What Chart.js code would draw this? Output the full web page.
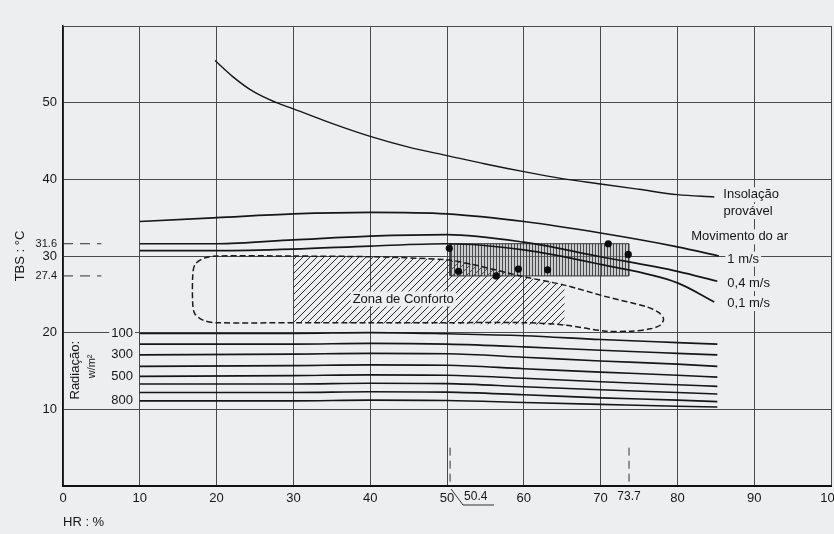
<!DOCTYPE html>
<html><head><meta charset="utf-8">
<script src="https://cdn.jsdelivr.net/npm/chart.js@4"></script>
<style>
html,body{margin:0;padding:0;background:#edeef0;overflow:hidden;width:834px;height:534px}
canvas{display:block}
</style></head>
<body><canvas id="c" width="880" height="534"></canvas>
<script>
// ---------- data ----------
const hrTicks  = [0,10,20,30,40,50,60,70,80,90,100];
const tbsTicks = [0,10,20,30,40,50,60];
const tbsMarks = [27.4, 31.6];
const hrMarks  = [50.4, 73.7];

const insolHR  = [19.8, 22.1, 24.7, 27.8, 30, 35, 40, 45, 50, 55, 60, 65, 70, 75, 80, 84.8];
const insolTBS = [55.5, 53.4, 51.5, 50.0, 49.2, 47.3, 45.6, 44.2, 43.1, 42.0, 41.0, 40.1, 39.4, 38.7, 38.0, 37.7];

const air1HR   = [10, 20, 30, 40, 50, 60, 70, 80, 85.4];
const air1TBS  = [34.5, 35.0, 35.5, 35.7, 35.5, 34.5, 33.0, 31.2, 30.0];
const air04HR  = [10, 20, 30, 40, 50, 60, 70, 80, 85.2];
const air04TBS = [31.6, 31.6, 32.1, 32.6, 32.8, 31.8, 29.9, 28.0, 26.7];
const air01HR  = [10, 20, 30, 40, 50, 60, 70, 80, 84.8];
const air01TBS = [30.7, 30.7, 30.9, 31.3, 31.6, 30.8, 28.9, 26.5, 24.0];

const radHR  = [10, 30, 40, 50, 60, 70, 80, 85.2];
const rad100 = [19.9, 19.9, 20.0, 19.85, 19.6, 19.1, 18.7, 18.5];
const rad200 = [18.5, 18.5, 18.6, 18.5, 18.15, 17.7, 17.3, 17.1];
const rad300 = [17.1, 17.2, 17.3, 17.25, 16.8, 16.3, 15.9, 15.6];
const rad400 = [15.6, 15.7, 15.8, 15.75, 15.3, 14.85, 14.45, 14.2];
const rad500 = [14.3, 14.4, 14.5, 14.45, 14.05, 13.6, 13.2, 13.0];
const rad600 = [13.3, 13.3, 13.4, 13.35, 12.95, 12.55, 12.2, 12.0];
const rad700 = [12.2, 12.2, 12.3, 12.25, 11.9, 11.5, 11.2, 11.0];
const rad800 = [11.1, 11.1, 11.2, 11.15, 10.9, 10.65, 10.4, 10.3];
const radLines  = [rad100, rad200, rad300, rad400, rad500, rad600, rad700, rad800];
const radLabels = ['100', '300', '500', '800'];
const radLabelLines = [rad100, rad300, rad500, rad800];

const comfortHR  = [30, 40, 50, 53.3, 60, 65.3, 70.7, 75.9, 77.6, 78.2, 77.8, 76.5, 74, 70.7, 65.3, 60, 50, 40, 30, 20, 18.3, 17.2, 16.9, 16.9, 17.2, 18.3, 20, 30];
const comfortTBS = [30.0, 29.9, 29.5, 28.9, 27.3, 26.2, 24.7, 23.4, 22.6, 21.8, 21.0, 20.5, 20.2, 20.2, 21.0, 21.3, 21.3, 21.3, 21.3, 21.3, 21.6, 22.4, 23.6, 27.6, 28.9, 29.7, 30.0, 30.0];

const zoneHR  = [30, 40, 50, 53.3, 60, 65.3, 65.3, 30, 30];
const zoneTBS = [30.0, 29.9, 29.5, 28.9, 27.3, 26.2, 21.0, 21.3, 30.0];

const measHR  = [50.3, 51.5, 56.4, 59.3, 63.1, 71.0, 73.6];
const measTBS = [31.0, 28.0, 27.4, 28.3, 28.2, 31.6, 30.2];

// ---------- helpers ----------
const FONT = "'Liberation Sans', Arial, sans-serif";
const BG = '#edeef0';
const INK = '#161616';
const pts = (xs, ys) => xs.map((x, i) => ({x, y: ys[i]}));

function diagPattern() {
  const s = 7, c = document.createElement('canvas');
  c.width = s; c.height = s;
  const g = c.getContext('2d');
  g.strokeStyle = '#2a2a2a'; g.lineWidth = 1;
  g.beginPath();
  g.moveTo(0, s); g.lineTo(s, 0);
  g.moveTo(-1, 1); g.lineTo(1, -1);
  g.moveTo(s - 1, s + 1); g.lineTo(s + 1, s - 1);
  g.stroke();
  return g.createPattern(c, 'repeat');
}
function vertPattern() {
  const c = document.createElement('canvas');
  c.width = 3; c.height = 4;
  const g = c.getContext('2d');
  g.fillStyle = 'rgba(140,140,140,0.35)'; g.fillRect(0, 0, 3, 4);
  g.fillStyle = '#4a4a4a'; g.fillRect(1, 0, 1, 4);
  return g.createPattern(c, 'repeat');
}

const boxData = [
  {x: hrMarks[0], y: tbsMarks[0]}, {x: hrMarks[1], y: tbsMarks[0]},
  {x: hrMarks[1], y: tbsMarks[1]}, {x: hrMarks[0], y: tbsMarks[1]},
  {x: hrMarks[0], y: tbsMarks[0]}
];

const curve = (data, w, order) => ({
  data, showLine: true, pointRadius: 0, borderColor: INK, borderWidth: w,
  cubicInterpolationMode: 'monotone', fill: false, order
});

const datasets = [
  {data: pts(measHR, measTBS), pointRadius: 3.6, pointBackgroundColor: '#0a0a0a',
   pointBorderWidth: 0, showLine: false, order: 0},
  curve(pts(insolHR, insolTBS), 1.4, 1),
  curve(pts(air1HR, air1TBS), 1.7, 1),
  curve(pts(air04HR, air04TBS), 1.7, 1),
  curve(pts(air01HR, air01TBS), 1.7, 1),
  ...radLines.map(r => curve(pts(radHR, r), 1.6, 1)),
  {data: pts(comfortHR, comfortTBS), showLine: true, pointRadius: 0, borderColor: '#1a1a1a',
   borderWidth: 1.5, borderDash: [6, 3], tension: 0.3, fill: false, order: 2},
  {data: boxData, showLine: true, pointRadius: 0, borderColor: '#333', borderWidth: 1,
   backgroundColor: vertPattern(), fill: 'shape', tension: 0, order: 3},
  {data: pts(zoneHR, zoneTBS), showLine: true, pointRadius: 0, borderWidth: 0,
   borderColor: 'rgba(0,0,0,0)', backgroundColor: diagPattern(), fill: 'shape', tension: 0, order: 4}
];

// ---------- annotation plugin ----------
const annot = {
  id: 'annot',
  afterDatasetsDraw(chart) {
    const {ctx, scales: {x, y}} = chart;
    const X = v => x.getPixelForValue(v), Y = v => y.getPixelForValue(v);
    function lab(text, px, py, align, size, opts = {}) {
      ctx.save();
      ctx.font = `${opts.weight || 'normal'} ${size}px ${FONT}`;
      const w = ctx.measureText(text).width;
      const x0 = align === 'left' ? px : align === 'right' ? px - w : px - w / 2;
      if (opts.bg !== false) {
        ctx.fillStyle = BG;
        ctx.fillRect(x0 - 2, py - size / 2 - 1, w + 4, size + 2);
      }
      ctx.fillStyle = INK; ctx.textAlign = align; ctx.textBaseline = 'middle';
      ctx.fillText(text, px, py);
      ctx.restore();
    }
    function rot(text, px, py, size) {
      ctx.save();
      ctx.translate(px, py); ctx.rotate(-Math.PI / 2);
      ctx.font = `${size}px ${FONT}`; ctx.fillStyle = INK;
      ctx.textAlign = 'center'; ctx.textBaseline = 'middle';
      ctx.fillText(text, 0, 0);
      ctx.restore();
    }
    // dashed reference marks
    ctx.save();
    ctx.strokeStyle = '#333'; ctx.lineWidth = 1; ctx.setLineDash([10, 7]);
    tbsMarks.forEach(t => { ctx.beginPath(); ctx.moveTo(X(0), Y(t)); ctx.lineTo(X(5), Y(t)); ctx.stroke(); });
    ctx.setLineDash([8, 5]);
    hrMarks.forEach(h => { ctx.beginPath(); ctx.moveTo(X(h), Y(5)); ctx.lineTo(X(h), Y(0)); ctx.stroke(); });
    ctx.setLineDash([]);
    // leader for 50.4
    ctx.beginPath();
    ctx.moveTo(X(hrMarks[0]) + 1, Y(0) + 3);
    ctx.lineTo(X(hrMarks[0]) + 13, Y(0) + 19);
    ctx.lineTo(X(hrMarks[0]) + 44, Y(0) + 19);
    ctx.stroke();
    ctx.restore();
    lab(String(hrMarks[0]), X(hrMarks[0]) + 14, Y(0) + 11, 'left', 12, {bg: false});
    lab(String(hrMarks[1]), X(hrMarks[1]), Y(0) + 11, 'center', 12, {bg: false});

    // right-side labels
    lab('Insolação', X(89.6), Y(38.0), 'center', 13);
    lab('provável', X(89.2), Y(35.8), 'center', 13);
    lab('Movimento do ar', X(88.1), Y(32.5), 'center', 13);
    lab('1 m/s', X(86.5), Y(29.6), 'left', 13);
    lab('0,4 m/s', X(86.5), Y(26.4), 'left', 13);
    lab('0,1 m/s', X(86.5), Y(23.8), 'left', 13);
    // comfort zone
    lab('Zona de Conforto', X(44.3), Y(24.4), 'center', 13);
    // radiation labels
    radLabels.forEach((t, i) => lab(t, X(9.1), Y(radLabelLines[i][0]), 'right', 13));
    rot('Radiação:', X(1.6), Y(15.1), 13);
    rot('w/m²', X(3.8), Y(15.6), 11);
  }
};

new Chart(document.getElementById('c'), {
  type: 'scatter',
  data: {datasets},
  options: {
    responsive: false,
    animation: false,
    layout: {padding: {top: 26, right: 49, left: 0, bottom: 0}},
    plugins: {legend: {display: false}, tooltip: {enabled: false}},
    scales: {
      x: {
        type: 'linear', min: 0, max: 100,
        afterBuildTicks: s => { s.ticks = hrTicks.map(v => ({value: v})); },
        afterFit: s => { s.height = 48; },
        grid: {color: '#4a4a4a', lineWidth: 1, drawTicks: false},
        border: {color: '#111', width: 2},
        ticks: {autoSkip: false, maxRotation: 0, padding: 5, color: INK,
                font: {family: FONT, size: 13}},
        title: {display: true, text: 'HR : %', align: 'start', color: INK,
                font: {family: FONT, size: 13}, padding: {top: 0, bottom: 4}}
      },
      y: {
        type: 'linear', min: 0, max: 60,
        afterBuildTicks: s => {
          s.ticks = [...tbsTicks, ...tbsMarks].sort((a, b) => a - b).map(v => ({value: v}));
        },
        afterFit: s => { s.width = 63; },
        grid: {
          color: c => tbsMarks.includes(c.tick && c.tick.value) ? 'rgba(0,0,0,0)' : '#4a4a4a',
          lineWidth: 1, drawTicks: false
        },
        border: {color: '#111', width: 1.5},
        ticks: {
          autoSkip: false, padding: 6, color: INK,
          callback: v => (v === 0 || v === 60) ? '' : String(v),
          font: c => ({family: FONT, size: tbsMarks.includes(c.tick && c.tick.value) ? 11 : 13})
        },
        title: {display: true, text: 'TBS : °C', color: INK,
                font: {family: FONT, size: 13}, padding: {top: 13, bottom: 0}}
      }
    }
  },
  plugins: [annot]
});
</script>
</body></html>
